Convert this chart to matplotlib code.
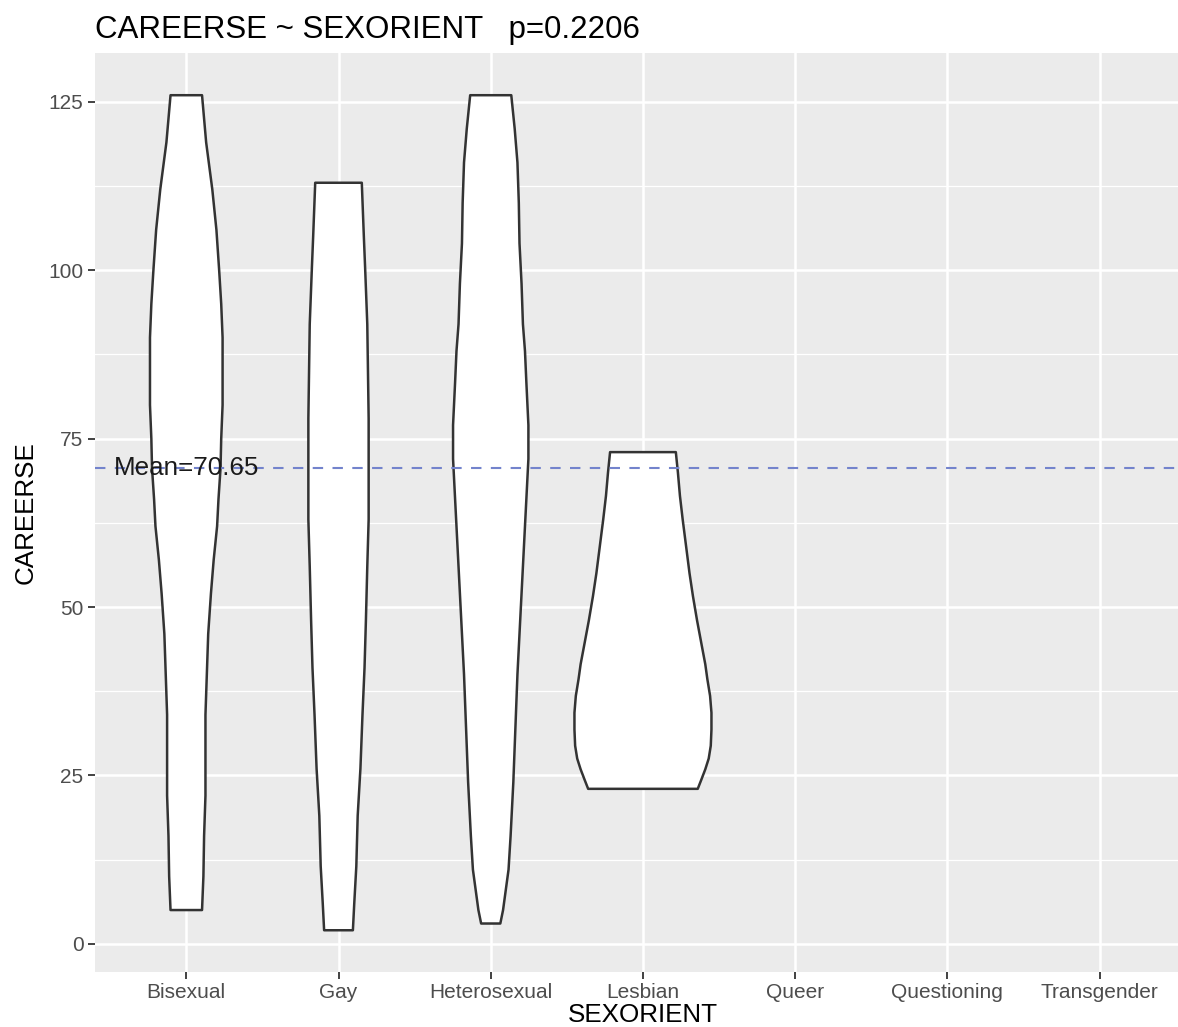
import matplotlib
matplotlib.use("Agg")
import matplotlib.pyplot as plt
import numpy as np

plt.rcParams['font.family'] = ['Liberation Sans', 'DejaVu Sans']

# categories on the x axis
groups = ['Bisexual', 'Gay', 'Heterosexual', 'Lesbian', 'Queer', 'Questioning', 'Transgender']

# violin outlines: CAREERSE levels and relative density (max = 1)
bi_y = [126, 119, 112, 106, 100, 95, 90, 85, 80, 75, 70.6, 66, 62, 57, 52, 46, 40, 34, 28, 22, 16, 10, 5]
bi_d = [.23, .29, .38, .44, .48, .51, .53, .53, .53, .51, .50, .47, .45, .40, .36, .32, .30, .28, .28, .28, .26, .25, .23]

gay_y = [113, 105, 100, 92, 85, 78, 70.6, 63, 56, 48, 41, 34, 26, 19, 11.5, 6, 2]
gay_d = [.34, .37, .39, .42, .43, .44, .44, .44, .42, .40, .38, .35, .32, .28, .26, .23, .21]

het_y = [126, 121, 116, 110, 104, 98, 92, 88, 83.4, 77, 72, 68, 64, 56, 48, 40, 32, 24, 16, 11, 8, 5, 3]
het_d = [.30, .35, .39, .41, .42, .45, .47, .50, .52, .55, .55, .53, .51, .47, .43, .39, .36, .33, .29, .26, .22, .18, .14]

les_y = [73, 70, 66.5, 63, 59, 55, 51.6, 48, 44.2, 41.5, 39.3, 36.8, 34.3, 31.8, 29.4, 27.5, 25.9, 24.3, 23]
les_d = [.48, .51, .54, .58, .63, .68, .73, .79, .86, .91, .94, .98, 1.0, 1.0, .99, .96, .91, .85, .80]

violins = {'Bisexual': (bi_y, bi_d), 'Gay': (gay_y, gay_d),
           'Heterosexual': (het_y, het_d), 'Lesbian': (les_y, les_d)}

mean_val = 70.65
p_value = 0.2206

fig = plt.figure(figsize=(11.78, 10.27), dpi=100)
ax = fig.add_axes([0.0806, 0.05355, 0.9304, 0.8944])
ax.set_facecolor('#EBEBEB')

x = np.arange(1, len(groups) + 1)
half = 0.45  # ggplot violin width 0.9

for i, g in enumerate(groups):
    if g not in violins:
        continue
    vy, vd = violins[g]
    vy = np.array(vy)
    w = half * np.array(vd)
    xs = np.concatenate([x[i] + w, (x[i] - w)[::-1]])
    ys = np.concatenate([vy, vy[::-1]])
    ax.fill(xs, ys, facecolor='white', edgecolor='#333333', linewidth=1.8,
            joinstyle='round', zorder=2)

ax.axhline(mean_val, color='#7383cc', linewidth=1.5, dashes=(5, 4.5), zorder=3)
ax.text(1, mean_val, 'Mean=%.2f' % mean_val, ha='center', va='center',
        fontsize=18.75, color='#1a1a1a', zorder=4)

ax.set_xlim(0.4, 7.6)
ax.set_ylim(-4.2, 132.2)
ax.set_xticks(x)
ax.set_xticklabels(groups)
ax.set_yticks([0, 25, 50, 75, 100, 125])
ax.set_yticks([12.5, 37.5, 62.5, 87.5, 112.5], minor=True)

ax.grid(which='major', color='white', linewidth=1.8)
ax.grid(which='minor', axis='y', color='white', linewidth=0.9)
ax.set_axisbelow(True)
for s in ax.spines.values():
    s.set_visible(False)
ax.tick_params(which='major', length=4.7, width=1.3, color='#333333',
               labelsize=15, labelcolor='#4D4D4D', pad=3.5)
ax.tick_params(which='minor', length=0)

ax.set_xlabel('SEXORIENT', fontsize=18.75, color='black', labelpad=0.5)
ax.set_ylabel('CAREERSE', fontsize=18.75, color='black', labelpad=8)
ax.set_title('CAREERSE ~ SEXORIENT   p=%.4f' % p_value, loc='left',
             fontsize=22.5, color='black', pad=11)

plt.savefig('out.png', dpi=100)
plt.close()
